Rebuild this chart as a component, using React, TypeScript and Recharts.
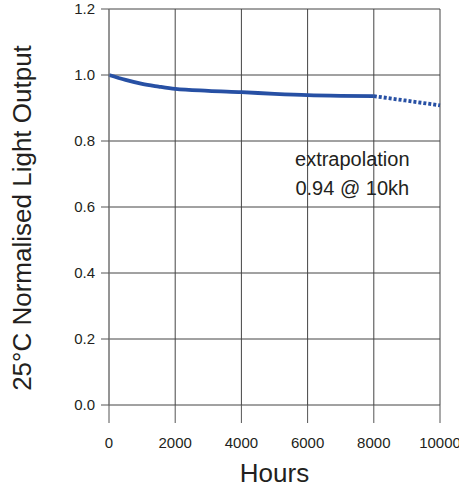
import { LineChart, Line, XAxis, YAxis, CartesianGrid, ReferenceDot, Label } from "recharts";

const hoursMeasured = [0, 500, 1000, 1500, 2000, 3000, 4000, 5000, 6000, 7000, 8000];
const outputMeasured = [1.0, 0.985, 0.973, 0.965, 0.958, 0.952, 0.948, 0.943, 0.939, 0.937, 0.936];
const hoursExtrap = [8000, 9000, 10000];
const outputExtrap = [0.936, 0.922, 0.908];
const xTicks = [0, 2000, 4000, 6000, 8000, 10000];
const yTicks = [0, 0.2, 0.4, 0.6, 0.8, 1.0, 1.2];
const noteLines = ["extrapolation", "0.94 @ 10kh"];

const measured = hoursMeasured.map((h, i) => ({ h, v: outputMeasured[i] }));
const extrap = hoursExtrap.map((h, i) => ({ h, v: outputExtrap[i] }));

const font = "'Liberation Sans', Arial, sans-serif";
const ink = "#231f20";
const blue = "#2750a4";

const YTitle = () => {
  const cx = 31;
  const cy = 218;
  return (
    <text
      x={cx}
      y={cy}
      transform={`rotate(-90 ${cx} ${cy})`}
      textAnchor="middle"
      fontSize={26}
      fill={ink}
      fontFamily={font}
    >
      25°C Normalised Light Output
    </text>
  );
};

export default function App() {
  return (
    <div style={{ position: "absolute", left: 0, top: 0, width: 459, height: 488, background: "#fff", fontFamily: font }}>
      <LineChart width={459} height={488} margin={{ top: 9, right: 19, left: 0, bottom: 0 }}>
        <CartesianGrid stroke="#444" strokeWidth={1} horizontalValues={yTicks} verticalValues={xTicks} />
        <XAxis
          dataKey="h"
          type="number"
          domain={[0, 10000]}
          ticks={xTicks}
          allowDuplicatedCategory={false}
          height={83}
          axisLine={false}
          tickSize={18}
          tickMargin={14}
          tickLine={{ stroke: "#555" }}
          tick={{ fontSize: 15, fill: ink, fontFamily: font }}
        >
          <Label value="Hours" position="insideBottom" offset={6} fontSize={26} fill={ink} fontFamily={font} />
        </XAxis>
        <YAxis
          dataKey="v"
          type="number"
          domain={[0, 1.2]}
          ticks={yTicks}
          width={109}
          axisLine={{ stroke: "#888" }}
          tickSize={8}
          tickMargin={6}
          tickLine={{ stroke: "#555" }}
          tickFormatter={(v: number) => v.toFixed(1)}
          tick={{ fontSize: 15, fill: ink, fontFamily: font }}
        >
          <Label content={<YTitle />} />
        </YAxis>
        <Line
          data={measured}
          dataKey="v"
          type="monotone"
          stroke={blue}
          strokeWidth={3.8}
          dot={false}
          isAnimationActive={false}
        />
        <Line
          data={extrap}
          dataKey="v"
          type="monotone"
          stroke={blue}
          strokeWidth={3.8}
          strokeDasharray="3 2"
          dot={false}
          isAnimationActive={false}
        />
        <ReferenceDot x={7350} y={0.745} r={0} stroke="none" ifOverflow="visible">
          <Label value={noteLines[0]} position="center" fontSize={20} fill={ink} fontFamily={font} />
        </ReferenceDot>
        <ReferenceDot x={7350} y={0.657} r={0} stroke="none" ifOverflow="visible">
          <Label value={noteLines[1]} position="center" fontSize={20} fill={ink} fontFamily={font} />
        </ReferenceDot>
      </LineChart>
    </div>
  );
}
